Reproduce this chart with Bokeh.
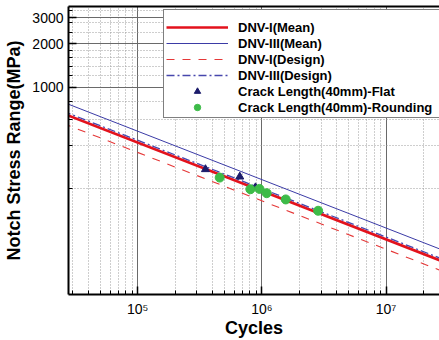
from bokeh.plotting import figure
from bokeh.models import (Range1d, FixedTicker, LogAxis, Legend, LegendItem,
                          NumeralTickFormatter)
from bokeh.embed import file_html
from bokeh.resources import INLINE

# ---- data ----
# S-N curves: values (MPa) at the two ends of the cycle span
curve_n = [2.5e4, 3.0e7]
dnv1_mean = [660.0, 62.1]
dnv3_mean = [790.0, 74.3]
dnv1_design = [564.0, 53.1]
dnv3_design = [684.0, 64.4]

# test points, crack length 40 mm
flat_n = [3.51e5, 6.63e5, 8.87e5]
flat_s = [272.0, 242.0, 204.0]
round_n = [4.57e5, 8.07e5, 9.55e5, 1.093e6, 1.555e6, 2.835e6]
round_s = [238.6, 198.4, 199.4, 186.3, 168.7, 141.0]

# ticks
x_major = [100000, 1000000, 10000000]
x_labels = ["10\u2075", "10\u2076", "10\u2077"]
x_minor = [m * 10 ** d for d in (4, 5, 6, 7) for m in range(2, 10)
           if 2.7e4 < m * 10 ** d < 2.7e7]
y_major = [1000, 2000, 3000]
y_minor = [200, 400, 600, 800, 1200, 1400, 1600, 1800, 2400, 2800, 3400]

FONT = "Liberation Sans"

p = figure(width=439, height=340, x_axis_type="log", y_axis_type="log",
           x_range=Range1d(2.77e4, 2.69e7), y_range=Range1d(37.37, 3597),
           output_backend="svg", toolbar_location=None,
           min_border_left=68, min_border_right=0, min_border_top=6,
           min_border_bottom=44)
p.outline_line_color = None
p.background_fill_color = "white"
p.border_fill_color = "white"

xt = FixedTicker(ticks=x_major, minor_ticks=x_minor)
yt = FixedTicker(ticks=y_major, minor_ticks=y_minor)

xa = p.below[0]
xa.ticker = xt
xa.major_label_overrides = dict(zip(x_major, x_labels))
xa.axis_label = "Cycles"
ya = p.left[0]
ya.ticker = yt
ya.formatter = NumeralTickFormatter(format="0")
ya.axis_label = "Notch Stress Range(MPa)"

for ax in (xa, ya):
    ax.axis_line_width = 2
    ax.axis_line_color = "black"
    ax.major_tick_in = 8
    ax.major_tick_out = 0
    ax.minor_tick_in = 4
    ax.minor_tick_out = 0
    ax.major_tick_line_color = "black"
    ax.minor_tick_line_color = "black"
    ax.major_tick_line_width = 1.5
    ax.major_label_text_font = FONT
    ax.major_label_text_font_size = "14px"
    ax.major_label_text_color = "black"
    ax.axis_label_text_font = FONT
    ax.axis_label_text_font_size = "18px"
    ax.axis_label_text_font_style = "bold"
    ax.axis_label_text_color = "black"
xa.major_label_standoff = 6
xa.axis_label_standoff = -2
ya.major_label_standoff = 5
ya.axis_label_standoff = 5

top = LogAxis(ticker=FixedTicker(ticks=[]), axis_line_width=2,
              axis_line_color="black", major_tick_in=0, major_tick_out=0,
              minor_tick_in=0, minor_tick_out=0, major_label_standoff=0,
              major_label_text_font_size="0px")
p.add_layout(top, "above")

for g, t in ((p.xgrid[0], xt), (p.ygrid[0], yt)):
    g.ticker = t
    g.grid_line_color = "#6a6a6a"
    g.grid_line_width = 1
    g.minor_grid_line_color = "#9c9c9c"
    g.minor_grid_line_dash = "1 2"
    g.minor_grid_line_width = 1

r1 = p.line(curve_n, dnv1_mean, line_color="#e3121c", line_width=2.6)
r2 = p.line(curve_n, dnv3_mean, line_color="#3b3ba6", line_width=1)
r3 = p.line(curve_n, dnv1_design, line_color="#e53838", line_width=1.1,
            line_dash="8 8")
r4 = p.line(curve_n, dnv3_design, line_color="#4747ad", line_width=1.3,
            line_dash="8 3 2 3")
r5 = p.scatter(flat_n, flat_s, marker="triangle", size=8,
               fill_color="#1c1c6b", line_color="#1c1c6b")
r6 = p.scatter(round_n, round_s, marker="circle", size=9,
               fill_color="#3dbb48", line_color="#3dbb48")

items = [LegendItem(label="DNV-I(Mean)", renderers=[r1]),
         LegendItem(label="DNV-III(Mean)", renderers=[r2]),
         LegendItem(label="DNV-I(Design)", renderers=[r3]),
         LegendItem(label="DNV-III(Design)", renderers=[r4]),
         LegendItem(label="Crack Length(40mm)-Flat", renderers=[r5]),
         LegendItem(label="Crack Length(40mm)-Rounding", renderers=[r6])]
legend = Legend(items=items, location=(95, 290 - 114), padding=2,
                title=" ", title_text_font_size="7px", title_standoff=0,
                spacing=0, label_height=16, glyph_height=16, glyph_width=62,
                label_standoff=10, label_width=210, margin=0,
                label_text_font=FONT, label_text_font_size="13px",
                label_text_font_style="bold", label_text_color="black",
                border_line_color="black", border_line_width=1,
                background_fill_color="white", background_fill_alpha=1)
p.add_layout(legend)

open("out.html", "w").write(file_html(p, INLINE))
